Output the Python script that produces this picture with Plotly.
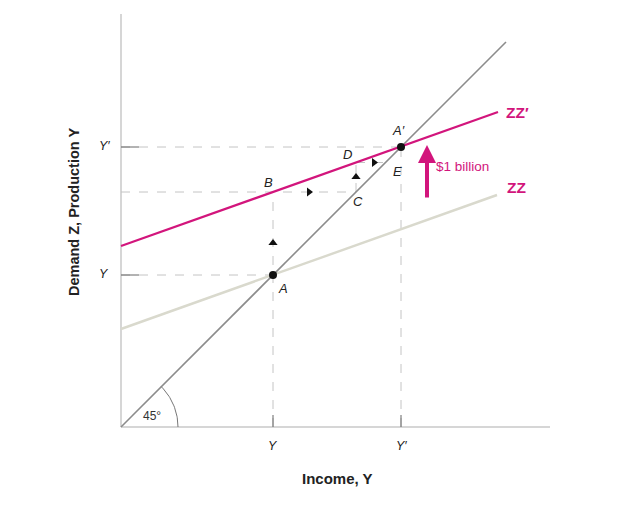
import numpy as np
import plotly.graph_objects as go

# ---- data (units: chart units) ----
line45_x = [0, 385]
line45_y = [0, 385]
zz_x = [0, 376]
zz_y = [98, 232]
zzp_x = [0, 377]
zzp_y = [181, 315]
Y0 = 152          # initial equilibrium output
Y1 = 280          # new equilibrium output
pt_names = ["A", "A′", "B", "C", "D", "E"]
pt_x = [152, 280, 152, 235, 235, 264.5]
pt_y = [152, 280, 235, 235, 264.5, 264.5]

MAG = "#d2157c"
ZZC = "#d9d9cd"
DASH = "#c4c4c4"
AX = "#c9c9c9"
FONT = "Liberation Sans, Arial, sans-serif"

fig = go.Figure()

def seg(x0, y0, x1, y1, color, width=1, dash="solid"):
    fig.add_shape(type="line", x0=x0, y0=y0, x1=x1, y1=y1, xref="x", yref="y",
                  line=dict(color=color, width=width, dash=dash), layer="below")

# axes
seg(0, 0, 0, 413, AX, 1.5)
seg(0, 0, 429, 0, AX, 1.5)

A, Ap, B, C, D, E = [(pt_x[i], pt_y[i]) for i in range(6)]

# dashed guides
seg(0, Y0, A[0], Y0, DASH, 1, "dash")
seg(0, Y1, Ap[0], Y1, DASH, 1, "dash")
seg(Y0, 0, B[0], B[1], DASH, 1, "dash")
seg(Y1, 0, Y1, Y1, DASH, 1, "dash")
seg(0, B[1], C[0], C[1], DASH, 1, "dash")
seg(C[0], C[1], D[0], D[1], DASH, 1, "dash")
seg(D[0], D[1], E[0], E[1], DASH, 1, "dash")

# solid ticks
for yv in [Y0, Y1]:
    seg(0, yv, 18, yv, "#666666", 1)
for xv in [Y0, Y1]:
    seg(xv, 0, xv, 12, "#666666", 1)

# lines
fig.add_trace(go.Scatter(x=zz_x, y=zz_y, mode="lines", line=dict(color=ZZC, width=2.4),
                         hoverinfo="skip", showlegend=False))
fig.add_trace(go.Scatter(x=line45_x, y=line45_y, mode="lines", line=dict(color="#8c8c8c", width=1.6),
                         hoverinfo="skip", showlegend=False))
fig.add_trace(go.Scatter(x=zzp_x, y=zzp_y, mode="lines", line=dict(color=MAG, width=2.2),
                         hoverinfo="skip", showlegend=False))

# 45 degree arc
th = np.linspace(0, np.pi / 4, 30)
fig.add_trace(go.Scatter(x=57 * np.cos(th), y=57 * np.sin(th), mode="lines",
                         line=dict(color="#777777", width=1), hoverinfo="skip", showlegend=False))

# direction triangles
fig.add_trace(go.Scatter(x=[Y0, D[0]], y=[184, 250], mode="markers",
                         marker=dict(symbol="triangle-up", size=8, color="#111111"),
                         hoverinfo="skip", showlegend=False))
fig.add_trace(go.Scatter(x=[188, 253], y=[B[1], D[1]], mode="markers",
                         marker=dict(symbol="triangle-right", size=8, color="#111111"),
                         hoverinfo="skip", showlegend=False))

# equilibrium points
fig.add_trace(go.Scatter(x=[A[0], Ap[0]], y=[A[1], Ap[1]], mode="markers",
                         marker=dict(size=8, color="#111111"), hoverinfo="skip", showlegend=False))

# point labels
offs = {"A": (10, -13), "A′": (-3, 17), "B": (-5, 10), "C": (2, -9), "D": (-9, 8), "E": (12, -9)}
for n, x, y in zip(pt_names, pt_x, pt_y):
    dx, dy = offs[n]
    fig.add_annotation(x=x + dx, y=y + dy, text=f"<i>{n}</i>", showarrow=False,
                       font=dict(family=FONT, size=13, color="#222222"))

# tick labels
for yv, t in [(Y0, "Y"), (Y1, "Y′")]:
    fig.add_annotation(x=-17, y=yv + 1, text=f"<i>{t}</i>", showarrow=False,
                       font=dict(family=FONT, size=12.5, color="#222222"))
for xv, t in [(Y0, "Y"), (Y1, "Y′")]:
    fig.add_annotation(x=xv, y=-19, text=f"<i>{t}</i>", showarrow=False,
                       font=dict(family=FONT, size=12.5, color="#222222"))

fig.add_annotation(x=31, y=11, text="45°", showarrow=False,
                   font=dict(family=FONT, size=12, color="#333333"))

# axis titles
fig.add_annotation(x=216, y=-51, text="<b>Income, Y</b>", showarrow=False,
                   font=dict(family=FONT, size=15, color="#222222"))
fig.add_annotation(x=-47, y=215, text="<b>Demand Z, Production Y</b>", showarrow=False,
                   textangle=-90, font=dict(family=FONT, size=14.5, color="#222222"))

# ZZ labels
fig.add_annotation(x=396, y=315, text="<b>ZZ′</b>", showarrow=False,
                   font=dict(family=FONT, size=15.5, color=MAG))
fig.add_annotation(x=395, y=240, text="<b>ZZ</b>", showarrow=False,
                   font=dict(family=FONT, size=15.5, color=MAG))

# $1 billion arrow
fig.add_annotation(x=306, y=282, ax=306, ay=228, xref="x", yref="y", axref="x", ayref="y",
                   text="", showarrow=True, arrowhead=2, arrowsize=0.9, arrowwidth=4,
                   arrowcolor=MAG)
fig.add_annotation(x=313, y=261, text="$1 billion", showarrow=False, xanchor="left",
                   font=dict(family=FONT, size=13.5, color=MAG))

fig.update_xaxes(range=[-113, 504], visible=False)
fig.update_yaxes(range=[-92, 419], visible=False)
fig.update_layout(width=617, height=511, margin=dict(l=0, r=0, t=0, b=0),
                  plot_bgcolor="white", paper_bgcolor="white", showlegend=False)

fig.write_html("out.html", config={"displayModeBar": False})
